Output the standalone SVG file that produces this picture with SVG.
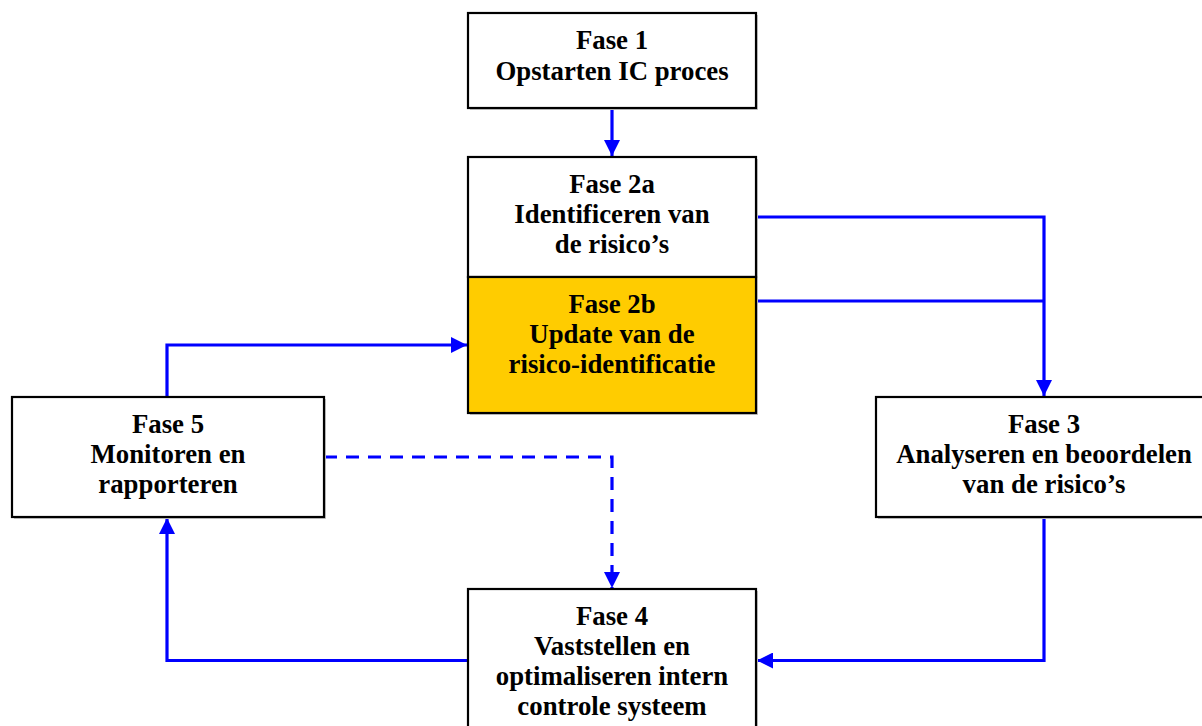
<svg xmlns="http://www.w3.org/2000/svg" width="1202" height="726" viewBox="0 0 1202 726">
<defs>
<style>
.box{stroke:#000;stroke-width:2.2;}
.shadow{fill:#c8c8c8;}
.t{font-family:"Liberation Serif","Times New Roman",serif;font-weight:bold;font-size:26.8px;fill:#000;text-anchor:middle;}
.c{fill:none;stroke:#0000ff;stroke-width:3.2;}
.d{stroke-dasharray:13 9;}
</style>
<marker id="ah" viewBox="0 0 10 10" refX="10" refY="5" markerWidth="5" markerHeight="5" markerUnits="strokeWidth" orient="auto">
<path d="M0,0 L10,5 L0,10 z" fill="#0000ff"/>
</marker>
</defs>
<rect width="1202" height="726" fill="#fff"/>
<g id="connectors">
<path class="c" d="M612,108 V156" marker-end="url(#ah)"/>
<path class="c" d="M756,217 H1044 V396" marker-end="url(#ah)"/>
<path class="c" d="M756,301 H1044"/>
<path class="c" d="M167,397 V345 H467" marker-end="url(#ah)"/>
<path class="c d" d="M324,457 H612 V588" marker-end="url(#ah)"/>
<path class="c" d="M1044,517 V660.5 H757" marker-end="url(#ah)"/>
<path class="c" d="M468,660.5 H167 V518" marker-end="url(#ah)"/>
</g>
<g id="fase1">
<rect class="shadow" x="470" y="15" width="288" height="95"/>
<rect class="box" x="468" y="13" width="288" height="95" fill="#fff"/>
<text class="t" x="612" y="49">Fase 1</text>
<text class="t" x="612" y="80">Opstarten IC proces</text>
</g>
<g id="fase2a">
<rect class="shadow" x="470" y="159" width="288" height="256"/>
<rect class="box" x="468" y="157" width="288" height="120" fill="#fff"/>
<text class="t" x="612" y="193">Fase 2a</text>
<text class="t" x="612" y="223">Identificeren van</text>
<text class="t" x="612" y="253">de risico’s</text>
</g>
<g id="fase2b">
<rect class="box" x="468" y="277" width="288" height="136" fill="#ffcc00"/>
<text class="t" x="612" y="313">Fase 2b</text>
<text class="t" x="612" y="343">Update van de</text>
<text class="t" x="612" y="373">risico-identificatie</text>
</g>
<g id="fase5">
<rect class="shadow" x="14" y="399" width="312" height="120"/>
<rect class="box" x="12" y="397" width="312" height="120" fill="#fff"/>
<text class="t" x="168" y="433">Fase 5</text>
<text class="t" x="168" y="463">Monitoren en</text>
<text class="t" x="168" y="493">rapporteren</text>
</g>
<g id="fase3">
<rect class="shadow" x="878" y="399" width="336" height="120"/>
<rect class="box" x="876" y="397" width="336" height="120" fill="#fff"/>
<text class="t" x="1044" y="433">Fase 3</text>
<text class="t" x="1044" y="463">Analyseren en beoordelen</text>
<text class="t" x="1044" y="493">van de risico’s</text>
</g>
<g id="fase4">
<rect class="shadow" x="470" y="591" width="288" height="150"/>
<rect class="box" x="468" y="589" width="288" height="150" fill="#fff"/>
<text class="t" x="612" y="625">Fase 4</text>
<text class="t" x="612" y="655">Vaststellen en</text>
<text class="t" x="612" y="685">optimaliseren intern</text>
<text class="t" x="612" y="715">controle systeem</text>
</g>
</svg>
